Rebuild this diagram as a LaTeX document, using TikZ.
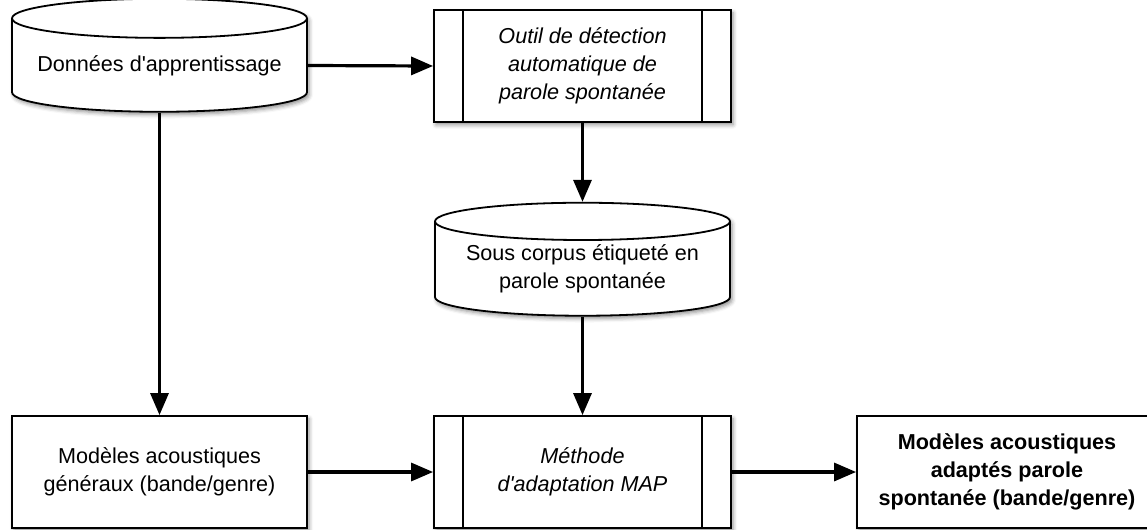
\documentclass[tikz,border=0pt]{standalone}
\usepackage{fontspec}
\setmainfont{Liberation Sans}
\usetikzlibrary{shapes.geometric, arrows.meta, shadows.blur}

\begin{document}
\begin{tikzpicture}
[x=0.5pt, y=-0.5pt,
 font=\fontsize{10.8pt}{14pt}\selectfont,
 base/.style={draw=black, fill=white, line width=0.9pt, inner sep=0pt, align=center,
              blur shadow={shadow xshift=1pt, shadow yshift=-1.4pt,
                           shadow blur radius=2pt, shadow opacity=45}},
 data/.style={base, cylinder, shape border rotate=90, aspect=0.16,
              minimum width=147.5pt, minimum height=56.5pt},
 block/.style={base, rectangle, minimum width=147.5pt, minimum height=56pt},
 process/.style={block, minimum width=148.5pt, font=\fontsize{10.8pt}{14pt}\selectfont\itshape},
 result/.style={block, minimum width=150pt, font=\fontsize{10.8pt}{14pt}\selectfont\bfseries},
 link/.style={-{Triangle[length=11pt, width=9pt]}, line width=1.6pt}
]
    \useasboundingbox (0,0) rectangle (1147,530);

    \node[data] (donnees) at (159.5,65.5) {Données d\textquotesingle apprentissage};
    \node[process] (outil) at (582.5,66) {Outil de détection\\ automatique de\\ parole spontanée};
    \node[data] (sous) at (582.5,269) {Sous corpus étiqueté en\\ parole spontanée};
    \node[block] (generaux) at (159.5,472) {Modèles acoustiques\\ généraux (bande/genre)};
    \node[process] (map) at (582.5,472) {Méthode\\ d\textquotesingle adaptation MAP};
    \node[result] (adaptes) at (1007,472) {Modèles acoustiques\\ adaptés parole\\ spontanée (bande/genre)};

    \foreach \p in {outil, map} {
        \draw[line width=0.9pt] ([xshift=15pt]\p.north west) -- ([xshift=15pt]\p.south west);
        \draw[line width=0.9pt] ([xshift=-15pt]\p.north east) -- ([xshift=-15pt]\p.south east);
    }

    \draw[link] (donnees.east) -- (outil.west);
    \draw[link] (donnees.south) -- (generaux.north);
    \draw[link] (outil.south) -- (sous.north);
    \draw[link] (sous.south) -- (map.north);
    \draw[link] (generaux.east) -- (map.west);
    \draw[link] (map.east) -- (adaptes.west);
\end{tikzpicture}
\end{document}
